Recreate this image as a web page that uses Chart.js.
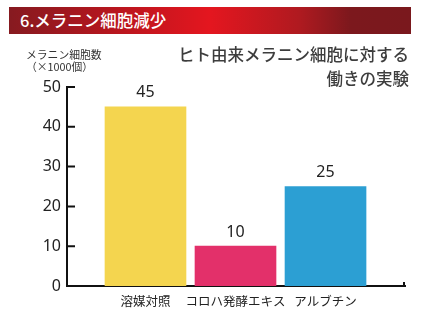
<!DOCTYPE html>
<html><head><meta charset="utf-8">
<script src="https://cdn.jsdelivr.net/npm/chart.js@4/dist/chart.umd.min.js"></script>
<style>
html,body{margin:0;padding:0;background:#fff;}
#wrap{position:relative;width:421px;height:330px;overflow:hidden;font-family:"Noto Sans CJK JP","Noto Sans",sans-serif;}
#hdr{position:absolute;left:9px;top:7px;width:402px;height:27px;
 background:linear-gradient(90deg,#861a20 0%,#b5161e 25%,#e4161f 50%,#b01a20 72%,#7c181d 85%,#7a181d 100%);
 color:#fff;font-size:16.5px;font-weight:500;line-height:27px;box-sizing:border-box;padding-left:11px;}
#ytitle{position:absolute;left:26px;top:48px;font-size:10.8px;line-height:12px;color:#333;}
#ctitle{position:absolute;right:12px;top:42px;font-size:16.5px;line-height:24px;color:#3d3d3d;text-align:right;font-weight:500;}
canvas{position:absolute;left:0;top:0;}
</style></head>
<body><div id="wrap">
<canvas id="c" width="421" height="330"></canvas>
<div id="hdr">6.メラニン細胞減少</div>
<div id="ytitle">メラニン細胞数<br>（×1000個）</div>
<div id="ctitle">ヒト由来メラニン細胞に対する<br>働きの実験</div>
</div>
<script>
const categories = ["溶媒対照", "コロハ発酵エキス", "アルブチン"];
const values = [45, 10, 25];
const barColors = ["#f4d54f", "#e3306a", "#2c9fd3"];
const yTicks = [0, 10, 20, 30, 40, 50];

const valueLabels = {
  id: 'valueLabels',
  afterDatasetsDraw(chart) {
    const ctx = chart.ctx;
    const meta = chart.getDatasetMeta(0);
    ctx.save();
    ctx.fillStyle = '#222';
    ctx.font = '16px "Noto Sans", sans-serif';
    ctx.textAlign = 'center';
    ctx.textBaseline = 'middle';
    meta.data.forEach((el, i) => {
      ctx.fillText(String(values[i]), el.x, el.y - 14);
    });
    ctx.restore();
  }
};
const axisTicks = {
  id: 'axisTicks',
  afterDraw(chart) {
    const a = chart.chartArea, ctx = chart.ctx, ys = chart.scales.y;
    ctx.save();
    ctx.strokeStyle = '#111';
    ctx.lineWidth = 2;
    ctx.beginPath();
    yTicks.forEach(v => {
      const py = ys.getPixelForValue(v);
      ctx.moveTo(a.left, py);
      ctx.lineTo(a.left + 8, py);
    });
    ctx.moveTo(a.right - 1, a.bottom + 1);
    ctx.lineTo(a.right - 1, a.bottom - 4);
    ctx.stroke();
    ctx.restore();
  }
};

new Chart(document.getElementById('c'), {
  type: 'bar',
  data: {
    datasets: [{
      data: values.map((v, i) => ({x: i, y: v})),
      backgroundColor: barColors,
      borderWidth: 0,
      barThickness: 81
    }]
  },
  options: {
    responsive: false,
    animation: false,
    layout: {padding: {left: 27, right: 16, top: 87, bottom: 14}},
    plugins: {legend: {display: false}, tooltip: {enabled: false}},
    scales: {
      x: {
        type: 'linear',
        min: -0.872,
        max: 2.883,
        offset: false,
        afterBuildTicks: s => { s.ticks = categories.map((c, i) => ({value: i})); },
        afterFit: s => { s.height = 30; },
        grid: {display: false, drawTicks: false},
        border: {display: true, color: '#111', width: 2},
        ticks: {
          padding: 8,
          autoSkip: false,
          maxRotation: 0,
          color: '#222',
          font: {family: '"Noto Sans CJK JP", sans-serif', size: 12.5},
          callback: v => categories[v] ?? ''
        }
      },
      y: {
        min: 0,
        max: 50,
        afterBuildTicks: s => { s.ticks = yTicks.map(v => ({value: v})); },
        afterFit: s => { s.width = 40; },
        grid: {display: false, drawTicks: false},
        border: {display: true, color: '#111', width: 2},
        ticks: {
          padding: 6,
          color: '#222',
          font: {family: '"Noto Sans", sans-serif', size: 16},
          callback: v => String(v)
        }
      }
    }
  },
  plugins: [valueLabels, axisTicks]
});
</script>
</body></html>
